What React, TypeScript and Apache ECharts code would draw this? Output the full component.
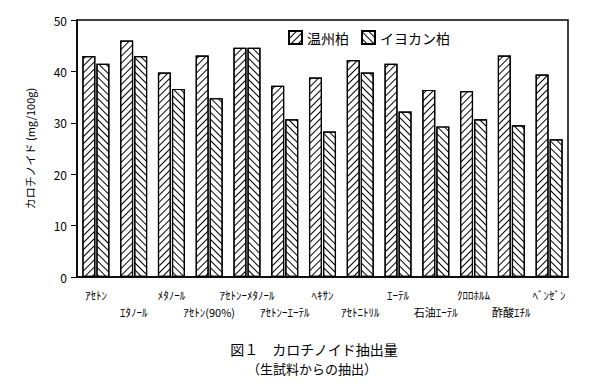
import React, { useEffect, useRef } from "react";
import * as echarts from "echarts";

const categories = [
  "ｱｾﾄﾝ",
  "ｴﾀﾉｰﾙ",
  "ﾒﾀﾉｰﾙ",
  "ｱｾﾄﾝ(90%)",
  "ｱｾﾄﾝｰﾒﾀﾉｰﾙ",
  "ｱｾﾄﾝｰｴｰﾃﾙ",
  "ﾍｷｻﾝ",
  "ｱｾﾄﾆﾄﾘﾙ",
  "ｴｰﾃﾙ",
  "石油ｴｰﾃﾙ",
  "ｸﾛﾛﾎﾙﾑ",
  "酢酸ｴﾁﾙ",
  "ﾍﾞﾝｾﾞﾝ",
];
const unshuValues = [43.0, 46.0, 39.8, 43.1, 44.6, 37.2, 38.8, 42.2, 41.5, 36.4, 36.2, 43.1, 39.4];
const iyokanValues = [41.5, 43.0, 36.6, 34.8, 44.6, 30.7, 28.3, 39.8, 32.2, 29.3, 30.7, 29.5, 26.8];
const seriesNames = ["温州柏", "イヨカン柏"];
const yTicks = { min: 0, max: 50, interval: 10 };
const yName = "カロチノイド (mg/100g)";
const titleText = "図１　カロチノイド抽出量";
const subtitleText = "（生試料からの抽出）";

const FONT = "'Noto Sans CJK JP', 'Noto Sans', sans-serif";

export default function App() {
  const ref = useRef<HTMLDivElement>(null);
  useEffect(() => {
    if (!ref.current) return;
    const chart = echarts.init(ref.current, null, { renderer: "svg" });
    const decalBase = {
      symbol: "rect",
      symbolSize: 1,
      color: "#000",
      backgroundColor: "#fff",
      dashArrayX: [1, 0],
      dashArrayY: [1, 4],
    };
    chart.setOption({
      animation: false,
      backgroundColor: "#fff",
      aria: { enabled: true, decal: { show: true } },
      textStyle: { fontFamily: FONT, color: "#000" },
      title: [
        {
          text: titleText,
          left: 309,
          top: 337,
          textAlign: "center",
          textStyle: { fontSize: 14, fontWeight: "normal", color: "#000", fontFamily: FONT },
        },
        {
          text: subtitleText,
          left: 307,
          top: 357,
          textAlign: "center",
          textStyle: { fontSize: 13, fontWeight: "normal", color: "#000", fontFamily: FONT },
        },
      ],
      legend: {
        left: 283,
        top: 25,
        icon: "rect",
        itemWidth: 13,
        itemHeight: 13,
        itemGap: 12,
        textStyle: { fontSize: 14, fontWeight: "normal", color: "#000", fontFamily: FONT },
        data: seriesNames,
      },
      grid: {
        left: 77,
        right: 36,
        top: 20,
        bottom: 114,
        show: true,
        borderColor: "#000",
        borderWidth: 1.5,
      },
      xAxis: {
        type: "category",
        data: categories,
        axisLine: { lineStyle: { color: "#000", width: 1.5 } },
        axisTick: { alignWithLabel: true, length: 8, lineStyle: { color: "#000" } },
        axisLabel: {
          interval: 0,
          color: "#000",
          fontSize: 11,
          lineHeight: 17,
          margin: 9,
          fontFamily: FONT,
          formatter: (v: string, i: number) => (i % 2 === 1 ? "\n" + v : v),
        },
      },
      yAxis: {
        type: "value",
        min: yTicks.min,
        max: yTicks.max,
        interval: yTicks.interval,
        name: yName,
        nameLocation: "middle",
        nameGap: 42,
        nameRotate: 90,
        nameTextStyle: { fontSize: 11, color: "#000", fontFamily: FONT },
        axisLine: { show: true, lineStyle: { color: "#000", width: 1.5 } },
        axisTick: { show: true, length: 6, lineStyle: { color: "#000" } },
        splitLine: { show: false },
        axisLabel: { color: "#000", fontSize: 12, margin: 10, fontFamily: FONT },
      },
      series: [
        {
          name: seriesNames[0],
          type: "bar",
          data: unshuValues,
          barWidth: 13,
          barGap: "8%",
          itemStyle: {
            color: "#fff",
            borderColor: "#000",
            borderWidth: 1.2,
            decal: { ...decalBase, rotation: -Math.PI / 4 },
          },
        },
        {
          name: seriesNames[1],
          type: "bar",
          data: iyokanValues,
          barWidth: 13,
          itemStyle: {
            color: "#fff",
            borderColor: "#000",
            borderWidth: 1.2,
            decal: { ...decalBase, rotation: Math.PI / 4 },
          },
        },
      ],
    });
    return () => chart.dispose();
  }, []);
  return <div ref={ref} style={{ width: 604, height: 391, position: "absolute", left: 0, top: 0 }} />;
}
